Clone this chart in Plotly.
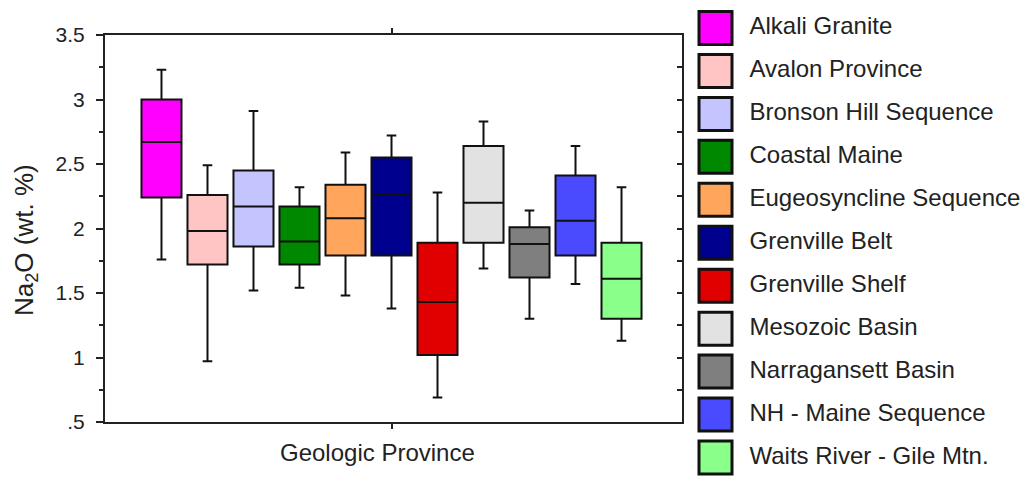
import plotly.graph_objects as go

categories = ["Alkali Granite", "Avalon Province", "Bronson Hill Sequence", "Coastal Maine",
              "Eugeosyncline Sequence", "Grenville Belt", "Grenville Shelf", "Mesozoic Basin",
              "Narragansett Basin", "NH - Maine Sequence", "Waits River - Gile Mtn."]
upper_whisker = [3.23, 2.49, 2.91, 2.32, 2.59, 2.72, 2.28, 2.83, 2.14, 2.64, 2.32]
q3_values = [3.00, 2.26, 2.45, 2.17, 2.34, 2.55, 1.89, 2.64, 2.01, 2.41, 1.89]
median_values = [2.67, 1.98, 2.17, 1.90, 2.08, 2.26, 1.43, 2.20, 1.88, 2.06, 1.61]
q1_values = [2.24, 1.72, 1.86, 1.72, 1.79, 1.79, 1.02, 1.89, 1.62, 1.79, 1.30]
lower_whisker = [1.76, 0.97, 1.52, 1.54, 1.48, 1.38, 0.69, 1.69, 1.30, 1.57, 1.13]
colors = ["#FF00FF", "#FFC4C4", "#C4C4FF", "#008800", "#FFA65C", "#00008E",
          "#E00000", "#E2E2E2", "#7F7F7F", "#4A4AFF", "#8AFF8A"]
y_tickvals = [0.5, 1, 1.5, 2, 2.5, 3, 3.5]
y_ticktext = [".5", "1", "1.5", "2", "2.5", "3", "3.5"]
x_title = "Geologic Province"
y_title = "Na<sub>2</sub>O (wt. %)"

W, H = 1027, 477
FONT = "Liberation Sans, Arial, sans-serif"
TXT = "#222222"

fig = go.Figure()

for i, name in enumerate(categories):
    fig.add_trace(go.Box(
        x=[i], q1=[q1_values[i]], median=[median_values[i]], q3=[q3_values[i]],
        lowerfence=[lower_whisker[i]], upperfence=[upper_whisker[i]],
        name=name, fillcolor=colors[i], line=dict(color="#111111", width=2),
        width=0.87, whiskerwidth=0.24, boxpoints=False, showlegend=False,
        hoverinfo="skip", xaxis="x", yaxis="y"))

# legend drawn as a small hidden-axis scatter
idx = list(range(len(categories)))
fig.add_trace(go.Scatter(
    x=[0] * len(categories), y=idx, mode="markers",
    marker=dict(symbol="square", size=33, color=colors, line=dict(color="#111111", width=3)),
    showlegend=False, hoverinfo="skip", xaxis="x2", yaxis="y2", cliponaxis=False))
fig.add_trace(go.Scatter(
    x=[34] * len(categories), y=idx, mode="text", text=categories,
    textposition="middle right", textfont=dict(family=FONT, size=24, color=TXT),
    showlegend=False, hoverinfo="skip", xaxis="x2", yaxis="y2", cliponaxis=False))

x0, x1 = 105, 682
y_top, y_bot = 35, 422
fig.update_layout(
    width=W, height=H, margin=dict(l=0, r=0, t=0, b=0, autoexpand=False),
    paper_bgcolor="white", plot_bgcolor="white",
    font=dict(family=FONT, color=TXT),
    xaxis=dict(domain=[x0 / W, x1 / W], range=[-1.228, 11.315], showgrid=False, zeroline=False,
               tickvals=[5], showticklabels=False, ticks="outside", ticklen=5, tickwidth=1.5,
               tickcolor="#222", showline=True, linecolor="#222", linewidth=2, mirror="ticks",
               anchor="y", automargin=False),
    yaxis=dict(domain=[1 - y_bot / H, 1 - y_top / H], range=[0.5, 3.5], showgrid=False,
               zeroline=False, tickvals=y_tickvals, ticktext=y_ticktext, ticks="outside",
               ticklen=7, tickwidth=1.5, tickcolor="#222", showline=True, linecolor="#222",
               linewidth=2, mirror=True, tickfont=dict(size=21, family=FONT, color=TXT),
               ticklabelstandoff=7, automargin=False,
               minor=dict(dtick=0.25, tick0=0.5, ticks="outside", ticklen=4, tickwidth=1.5,
                          tickcolor="#222"),
               anchor="x"),
    yaxis3=dict(overlaying="y", side="right", anchor="x", range=[0.5, 3.5], showgrid=False,
                zeroline=False, tickvals=[0.75 + 0.25 * k for k in range(11)], ticks="inside",
                ticklen=5, tickwidth=1.5, tickcolor="#222", showticklabels=False, showline=False,
                automargin=False),
    xaxis2=dict(domain=[697 / W, 1], range=[-18.5, 311.5], visible=False, anchor="y2",
                automargin=False),
    yaxis2=dict(domain=[0, 1], range=[10.454, -0.652], visible=False, anchor="x2",
                automargin=False),
    annotations=[
        dict(text=x_title, xref="paper", yref="paper", x=377 / W, y=1 - 452 / H,
             xanchor="center", yanchor="middle", showarrow=False,
             font=dict(size=24, family=FONT, color=TXT)),
        dict(text=y_title, xref="paper", yref="paper", x=25 / W, y=1 - 240 / H,
             xanchor="center", yanchor="middle", showarrow=False, textangle=-90,
             font=dict(size=26, family=FONT, color=TXT)),
    ],
)

fig.add_trace(go.Scatter(x=[None], y=[None], xaxis="x", yaxis="y3", showlegend=False,
                         hoverinfo="skip"))

fig.write_html("out.html", config={"displayModeBar": False},
               post_script="document.body.style.margin='0px';")
